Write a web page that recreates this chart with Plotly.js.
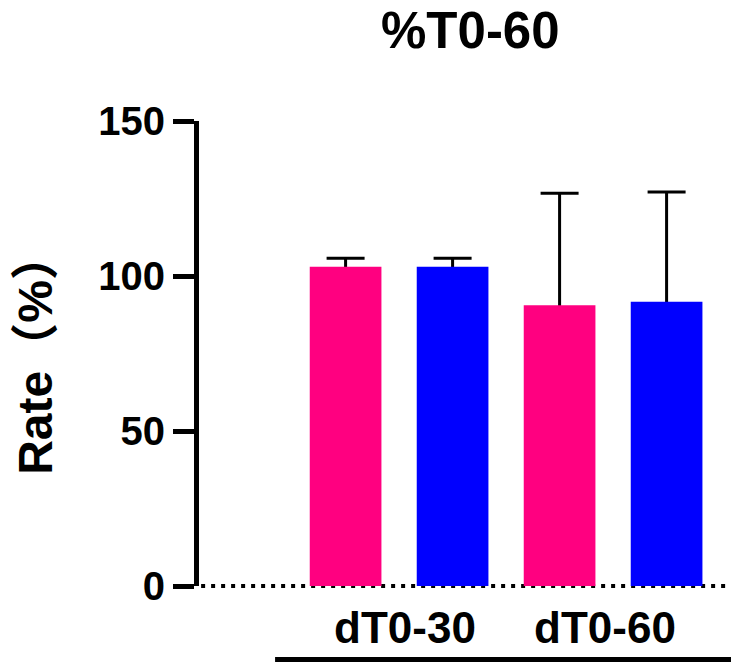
<!DOCTYPE html>
<html>
<head>
<meta charset="utf-8">
<script src="https://cdn.plot.ly/plotly-3.0.1.min.js"></script>
<style>
  html, body { margin: 0; padding: 0; background: #fff; }
  #chart { width: 731px; height: 662px; }
</style>
</head>
<body>
<div id="chart"></div>
<script>
// Group labels on the x axis
var categories = ['dT0-30', 'dT0-60'];

// Pink series: mean rate (%) and upper SD
var pinkMean = [103.0, 90.6];
var pinkErr  = [2.7, 36.1];

// Blue series: mean rate (%) and upper SD
var blueMean = [103.0, 91.7];
var blueErr  = [2.7, 35.4];

// Y axis ticks
var yTicks = [0, 50, 100, 150];

var PINK = '#FF0080';
var BLUE = '#0000FF';
var FONT = 'Arial, "Liberation Sans", "Noto Sans CJK SC", sans-serif';

// Error bars are drawn on their own transparent layer first, so the
// solid bars painted afterwards hide the part below each bar top.
function errLayer(vals, errs, group) {
  return {
    type: 'bar', x: categories, y: vals, offsetgroup: group,
    marker: { color: 'rgba(0,0,0,0)', line: { width: 0 } },
    error_y: { type: 'data', array: errs, symmetric: true,
               color: '#000', thickness: 3, width: 19 },
    hoverinfo: 'skip', showlegend: false
  };
}
function barLayer(vals, color, group) {
  return {
    type: 'bar', x: categories, y: vals, offsetgroup: group,
    marker: { color: color, line: { width: 0 } },
    showlegend: false
  };
}

var data = [
  errLayer(pinkMean, pinkErr, 'pink'),
  errLayer(blueMean, blueErr, 'blue'),
  barLayer(pinkMean, PINK, 'pink'),
  barLayer(blueMean, BLUE, 'blue'),
  // carries the group names onto the label axis (no visible marks)
  { type: 'scatter', mode: 'markers', x: categories, y: pinkMean,
    xaxis: 'x2', yaxis: 'y', marker: { opacity: 0, size: 1 },
    hoverinfo: 'skip', showlegend: false }
];

var labelFont = { family: FONT, size: 44, weight: 'bold', color: '#000' };

var layout = {
  width: 731, height: 662,
  margin: { l: 199, r: 0, t: 121, b: 76, pad: 0 },
  paper_bgcolor: '#fff', plot_bgcolor: '#fff',
  barmode: 'group', bargap: 0, bargroupgap: 0.33,
  showlegend: false,
  title: {
    text: '%T0-60',
    font: { family: FONT, size: 51, weight: 'bold', color: '#000' },
    xref: 'paper', x: 0.51, xanchor: 'center',
    yref: 'container', y: 0.954, yanchor: 'middle'
  },
  xaxis: {
    type: 'category',
    range: [-0.935, 1.551],
    showline: false, showgrid: false, zeroline: false,
    ticks: '', showticklabels: false,
    fixedrange: true
  },
  // label axis: group names set a little inside the bar pairs
  xaxis2: {
    type: 'category',
    overlaying: 'x', anchor: 'y', side: 'bottom',
    range: [-1.03, 1.63],
    showline: false, showgrid: false, zeroline: false,
    ticks: '', ticklabelstandoff: 12,
    tickfont: labelFont,
    fixedrange: true
  },
  yaxis: {
    range: [0, 150],
    tickvals: yTicks, ticktext: yTicks.map(String),
    showline: true, linecolor: '#000', linewidth: 5,
    ticks: 'outside', ticklen: 21, tickwidth: 5, tickcolor: '#000',
    showgrid: false, zeroline: false,
    tickfont: { family: FONT, size: 40, weight: 'bold', color: '#000' },
    title: {
      text: 'Rate（%）',
      font: { family: FONT, size: 48, weight: 'bold', color: '#000' },
      standoff: 32
    },
    fixedrange: true
  },
  shapes: [
    // dotted baseline at zero, under the bars
    { type: 'line', xref: 'paper', yref: 'paper', x0: 0.004, x1: 1, y0: 0, y1: 0,
      layer: 'below', line: { color: '#000', width: 4, dash: '4px,6px' } },
    // offset x axis rule below the group labels
    { type: 'line', xref: 'paper', yref: 'paper', x0: 0.143, x1: 1,
      y0: -0.158, y1: -0.158, line: { color: '#000', width: 5 } }
  ]
};

Plotly.newPlot('chart', data, layout, { displayModeBar: false, staticPlot: true });
</script>
</body>
</html>
